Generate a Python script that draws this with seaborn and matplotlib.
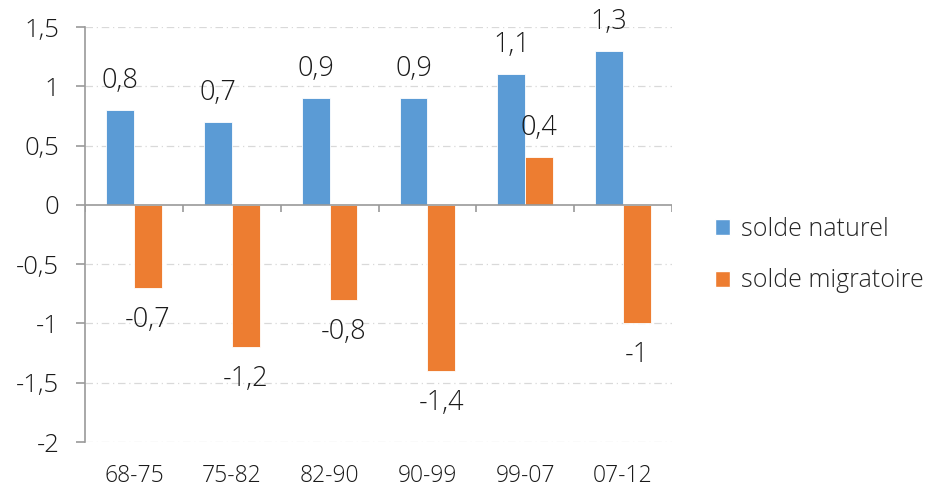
import matplotlib
matplotlib.use("Agg")
import matplotlib.pyplot as plt
from matplotlib.patches import Patch
import seaborn as sns
import pandas as pd
import numpy as np

# data
periods = ["68-75", "75-82", "82-90", "90-99", "99-07", "07-12"]
solde_naturel = [0.8, 0.7, 0.9, 0.9, 1.1, 1.3]
solde_migratoire = [-0.7, -1.2, -0.8, -1.4, 0.4, -1.0]
series_names = ["solde naturel", "solde migratoire"]
colors = ["#5B9BD5", "#ED7D31"]

df = pd.DataFrame({
    "periode": periods * 2,
    "valeur": solde_naturel + solde_migratoire,
    "serie": [series_names[0]] * len(periods) + [series_names[1]] * len(periods),
})

sns.set_style("white")
plt.rcParams["font.family"] = ["Open Sans", "DejaVu Sans"]
text_color = "#1a1a1a"

fig = plt.figure(figsize=(9.32, 4.87), dpi=100)
ax = fig.add_axes([85 / 932, 1 - 442 / 487, 587 / 932, 415 / 487])

sns.barplot(data=df, x="periode", y="valeur", hue="serie", order=periods,
            hue_order=series_names, palette=colors, width=0.57,
            edgecolor="white", linewidth=0.6, saturation=1, ax=ax, legend=False)

ax.set_ylim(-2, 1.5)
ax.set_xlim(-0.5, len(periods) - 0.5)
yticks = np.arange(-2, 1.51, 0.5)
ax.set_yticks(yticks)
ax.set_yticklabels([("%g" % t).replace(".", ",") for t in yticks])
for t in yticks:
    if t != 0:
        ax.axhline(t, color="#d9d9d9", lw=0.9, ls=(0, (6, 3, 1, 3)), zorder=0)
ax.axhline(0, color="#9a9a9a", lw=1.2, zorder=3)
ax.vlines(np.arange(-0.5, len(periods)), 0, -0.06, color="#9a9a9a", lw=1.2, zorder=3)

ax.set_xlabel("")
ax.set_ylabel("")
for side in ["top", "right", "bottom"]:
    ax.spines[side].set_visible(False)
ax.spines["left"].set_color("#9a9a9a")
ax.spines["left"].set_linewidth(1.2)
ax.tick_params(axis="y", left=True, length=6.5, width=1.2, color="#9a9a9a",
               labelsize=18.5, labelcolor=text_color, pad=12)
ax.tick_params(axis="x", bottom=False, labelsize=16.5, labelcolor=text_color, pad=12)
for lab in ax.get_yticklabels() + ax.get_xticklabels():
    lab.set_fontweight("light")

# data labels
for container in ax.containers:
    for bar in container:
        h = bar.get_height()
        x = bar.get_x() + bar.get_width() / 2
        txt = ("%g" % h).replace(".", ",")
        off = 21 if h >= 0 else -23
        ax.annotate(txt, (x, h), xytext=(0, off), textcoords="offset points",
                    ha="center", va="center", fontsize=19.5, color=text_color,
                    fontweight="light")

handles = [Patch(facecolor=c, edgecolor="white") for c in colors]
ax.legend(handles, series_names, loc="center left", bbox_to_anchor=(1.035, 0.45),
          frameon=False, handlelength=0.6, handleheight=0.6,
          handletextpad=0.45, labelspacing=1.05, prop={"weight": "light", "size": 18})

fig.savefig("out.png", dpi=100)
